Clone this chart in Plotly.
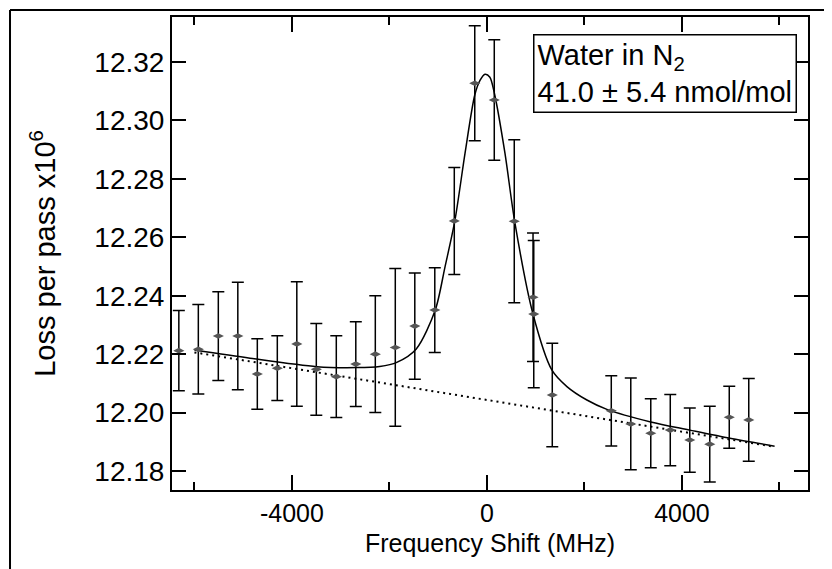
import plotly.graph_objects as go

# ---- data ----
freq_mhz = [-6320, -5920, -5510, -5110, -4710, -4300, -3900, -3500, -3090, -2690,
            -2290, -1880, -1480, -1070, -670, -250, 150, 560, 945, 960, 1340,
            2550, 2950, 3360, 3760, 4160, 4570, 4970, 5370]
loss = [12.2212, 12.2217, 12.2262, 12.2262, 12.2132, 12.2152, 12.2235, 12.2148, 12.2123, 12.2166,
        12.2200, 12.2223, 12.2296, 12.2351, 12.2656, 12.3127, 12.3070, 12.2655, 12.2395, 12.2337,
        12.2060, 12.2006, 12.1961, 12.1929, 12.1940, 12.1906, 12.1892, 12.1984, 12.1975]
loss_err = [0.0137, 0.0153, 0.0152, 0.0184, 0.0121, 0.0111, 0.0213, 0.0157, 0.0140, 0.0145,
            0.0200, 0.0270, 0.0182, 0.0145, 0.0183, 0.0197, 0.0206, 0.0279, 0.0220, 0.0252,
            0.0177, 0.0120, 0.0157, 0.0118, 0.0122, 0.0110, 0.0130, 0.0106, 0.0142]

fit_x = [-6000, -4860, -3490, -2670, -2200, -1850, -1450, -1060, -860, -660, -450, -250,
         -140, -40, 60, 160, 370, 570, 940, 1330, 1640, 2050, 2460, 3360, 4160, 4985, 5900]
fit_y = [12.2214, 12.2186, 12.2157, 12.2154, 12.2158, 12.2172, 12.2218, 12.2351, 12.2499,
         12.2655, 12.2887, 12.3087, 12.3138, 12.3158, 12.3148, 12.3087, 12.2887, 12.2653,
         12.2340, 12.2146, 12.2089, 12.2043, 12.2011, 12.1968, 12.1940, 12.1912, 12.1885]

base_x = [-6000, 5900]
base_y = [12.2206, 12.1883]

x_tickvals = [-4000, 0, 4000]
x_ticktext = ["-4000", "0", "4000"]
x_minor = [-6000, -2000, 2000, 6000]
y_tickvals = [12.18, 12.20, 12.22, 12.24, 12.26, 12.28, 12.30, 12.32]
y_ticktext = ["12.18", "12.20", "12.22", "12.24", "12.26", "12.28", "12.30", "12.32"]

FONT = "Liberation Sans, Arial, sans-serif"

fig = go.Figure()
fig.add_trace(go.Scatter(x=base_x, y=base_y, mode="lines",
                         line=dict(color="black", width=2, dash="2px,4px"),
                         showlegend=False, hoverinfo="skip"))
fig.add_trace(go.Scatter(x=fit_x, y=fit_y, mode="lines",
                         line=dict(color="black", width=1.5, shape="spline", smoothing=0.8),
                         showlegend=False, hoverinfo="skip"))
fig.add_trace(go.Scatter(x=freq_mhz, y=loss, mode="markers",
                         marker=dict(symbol="diamond-wide", size=8, color="#555555"),
                         error_y=dict(type="data", array=loss_err, visible=True,
                                      color="black", thickness=1.5, width=6),
                         showlegend=False))

# the page body adds an 8px margin, so the figure is 8px smaller than the window
fig.update_layout(
    width=824, height=561,
    margin=dict(l=164, r=24, t=9, b=79),
    paper_bgcolor="white", plot_bgcolor="white",
    font=dict(family=FONT, color="black", size=25),
    showlegend=False,
)
fig.update_xaxes(
    automargin=False,
    range=[-6460, 6585], tickmode="array", tickvals=x_tickvals, ticktext=x_ticktext,
    ticks="inside", ticklen=15, tickwidth=1.5, tickcolor="black",
    minor=dict(tickmode="array", tickvals=x_minor, ticks="inside", ticklen=8,
               tickwidth=1.5, tickcolor="black", showgrid=False),
    showline=True, linecolor="black", linewidth=2, mirror="ticks",
    showgrid=False, zeroline=False,
    tickfont=dict(size=25, family=FONT),
    title=dict(text="Frequency Shift (MHz)", font=dict(size=25, family=FONT), standoff=8),
)
fig.update_yaxes(
    automargin=False,
    range=[12.1735, 12.3354], tickmode="array", tickvals=y_tickvals, ticktext=y_ticktext,
    ticks="inside", ticklen=14, tickwidth=1.5, tickcolor="black",
    showline=True, linecolor="black", linewidth=2, mirror="ticks",
    showgrid=False, zeroline=False,
    tickfont=dict(size=28, family=FONT),
    title=dict(text="Loss per pass x10<sup>6</sup>", font=dict(size=29, family=FONT), standoff=30),
)

fig.add_annotation(
    xref="paper", yref="paper", x=0.5676, y=0.964, xanchor="left", yanchor="top",
    text="Water in N<sub>2</sub><br>41.0 ± 5.4 nmol/mol", align="left", showarrow=False,
    font=dict(size=29, family=FONT, color="black"),
    bordercolor="black", borderwidth=1.5, borderpad=3, bgcolor="white",
)

# outer frame of the figure (left and top edges)
fig.add_shape(type="line", xref="paper", yref="paper", x0=-0.2547, x1=-0.2547, y0=-0.17, y1=1.0148,
              line=dict(color="black", width=2))
fig.add_shape(type="line", xref="paper", yref="paper", x0=-0.2547, x1=1.04, y0=1.0148, y1=1.0148,
              line=dict(color="black", width=2))

fig.write_html("out.html")
